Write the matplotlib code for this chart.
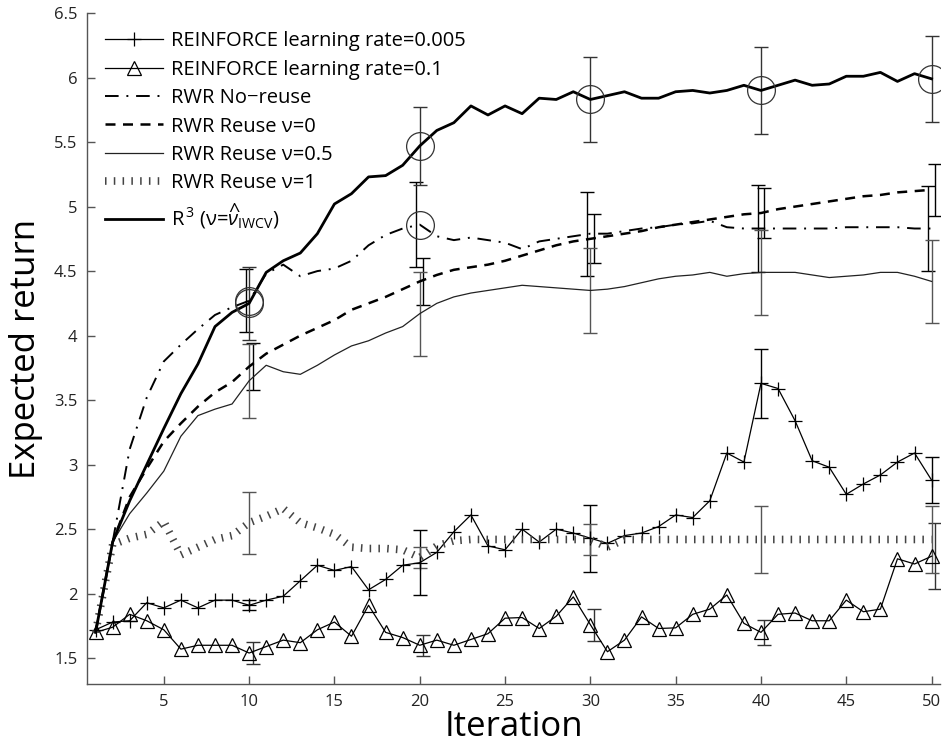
import numpy as np
import matplotlib
matplotlib.use("Agg")
import matplotlib.pyplot as plt

plt.rcParams['font.family'] = ['Open Sans', 'DejaVu Sans']
plt.rcParams['mathtext.fontset'] = 'custom'
plt.rcParams['mathtext.rm'] = 'Open Sans'
plt.rcParams['mathtext.it'] = 'Open Sans:italic'

# ---- data ----
iterations = np.arange(1, 51)
bar_iters = [10, 20, 30, 40, 50]

reinforce_005 = [1.72, 1.78, 1.79, 1.93, 1.89, 1.95, 1.89, 1.95, 1.95, 1.91,
                 1.95, 1.98, 2.10, 2.22, 2.18, 2.21, 2.03, 2.11, 2.22, 2.24,
                 2.32, 2.48, 2.61, 2.37, 2.34, 2.50, 2.40, 2.50, 2.47, 2.43,
                 2.39, 2.45, 2.47, 2.52, 2.61, 2.59, 2.72, 3.09, 3.02, 3.63,
                 3.59, 3.34, 3.03, 2.98, 2.77, 2.85, 2.92, 3.02, 3.09, 2.88]
reinforce_01 = [1.70, 1.74, 1.84, 1.79, 1.72, 1.57, 1.60, 1.60, 1.60, 1.54,
                1.59, 1.64, 1.62, 1.72, 1.78, 1.67, 1.91, 1.70, 1.66, 1.60,
                1.64, 1.60, 1.645, 1.69, 1.81, 1.815, 1.73, 1.825, 1.975, 1.76,
                1.55, 1.64, 1.82, 1.73, 1.735, 1.84, 1.88, 1.99, 1.77, 1.70,
                1.84, 1.85, 1.79, 1.79, 1.95, 1.86, 1.88, 2.27, 2.23, 2.29]
rwr_noreuse = [1.70, 2.40, 3.12, 3.52, 3.80, 3.93, 4.05, 4.16, 4.22, 4.27,
               4.48, 4.55, 4.46, 4.50, 4.52, 4.58, 4.70, 4.78, 4.83, 4.86,
               4.77, 4.74, 4.76, 4.74, 4.72, 4.67, 4.73, 4.75, 4.77, 4.79,
               4.79, 4.81, 4.83, 4.84, 4.86, 4.87, 4.89, 4.84, 4.83, 4.83,
               4.83, 4.83, 4.83, 4.83, 4.84, 4.84, 4.84, 4.84, 4.83, 4.83]
rwr_reuse0 = [1.70, 2.40, 2.75, 2.97, 3.18, 3.32, 3.45, 3.56, 3.64, 3.76,
              3.86, 3.93, 4.00, 4.06, 4.12, 4.20, 4.25, 4.30, 4.36, 4.42,
              4.47, 4.51, 4.53, 4.55, 4.58, 4.62, 4.66, 4.70, 4.73, 4.75,
              4.77, 4.79, 4.81, 4.84, 4.86, 4.88, 4.90, 4.92, 4.94, 4.95,
              4.98, 5.00, 5.02, 5.04, 5.06, 5.08, 5.09, 5.11, 5.12, 5.13]
rwr_reuse05 = [1.70, 2.40, 2.62, 2.78, 2.95, 3.22, 3.38, 3.43, 3.47, 3.65,
               3.77, 3.72, 3.70, 3.77, 3.85, 3.92, 3.96, 4.02, 4.07, 4.17,
               4.25, 4.30, 4.33, 4.35, 4.37, 4.39, 4.38, 4.37, 4.36, 4.35,
               4.36, 4.38, 4.41, 4.44, 4.46, 4.47, 4.49, 4.46, 4.48, 4.49,
               4.49, 4.49, 4.47, 4.45, 4.46, 4.47, 4.49, 4.49, 4.46, 4.42]
rwr_reuse1 = [1.70, 2.38, 2.43, 2.46, 2.56, 2.30, 2.36, 2.42, 2.45, 2.55,
              2.60, 2.66, 2.55, 2.51, 2.46, 2.36, 2.35, 2.35, 2.34, 2.28,
              2.37, 2.41, 2.42, 2.42, 2.42, 2.42, 2.42, 2.42, 2.42, 2.42,
              2.36, 2.42, 2.42, 2.42, 2.42, 2.42, 2.42, 2.42, 2.42, 2.42,
              2.42, 2.42, 2.42, 2.42, 2.42, 2.42, 2.42, 2.42, 2.42, 2.42]
r3 = [1.70, 2.40, 2.72, 3.00, 3.28, 3.55, 3.78, 4.07, 4.18, 4.25,
      4.49, 4.58, 4.64, 4.79, 5.02, 5.10, 5.23, 5.24, 5.32, 5.47,
      5.59, 5.65, 5.78, 5.71, 5.78, 5.72, 5.84, 5.83, 5.89, 5.83,
      5.86, 5.89, 5.84, 5.84, 5.89, 5.90, 5.88, 5.90, 5.94, 5.90,
      5.94, 5.98, 5.94, 5.95, 6.01, 6.01, 6.04, 5.97, 6.03, 5.99]

# half-widths of the error bars at iterations 10, 20, ..., 50
reinforce_005_err = [0.04, 0.25, 0.26, 0.265, 0.18]
reinforce_01_err = [0.087, 0.08, 0.125, 0.095, 0.255]
rwr_noreuse_err = [0.245, 0.33, 0.325, 0.34, 0.33]
rwr_reuse0_err = [0.18, 0.185, 0.19, 0.195, 0.20]
rwr_reuse05_err = [0.285, 0.325, 0.33, 0.33, 0.32]
rwr_reuse1_err = [0.24, 0.08, 0.12, 0.26, 0.26]
r3_err = [0.285, 0.30, 0.33, 0.335, 0.335]

# iterations that carry a circle marker
r3_circles = [10, 20, 30, 40, 50]
noreuse_circles = [10, 20]

labels = ['REINFORCE learning rate=0.005',
          'REINFORCE learning rate=0.1',
          'RWR No\u2212reuse',
          'RWR Reuse \u03bd=0',
          'RWR Reuse \u03bd=0.5',
          'RWR Reuse \u03bd=1',
          'R$^{\\,3}$ (\u03bd=$\\widehat{\\nu}_{\\mathrm{IWCV}}$)']

fig = plt.figure(figsize=(9.42, 7.49), dpi=100)
ax = fig.add_axes([0.0924, 0.0868, 0.9056, 0.8958])

def pick(series, at):
    return [series[i - 1] for i in at]

def ebar(series, err, offset, color):
    xs = [b + offset for b in bar_iters]
    ax.errorbar(xs, pick(series, bar_iters), yerr=err, fmt='none',
                ecolor=color, elinewidth=1.0, capsize=5, capthick=1.0, zorder=2)

ax.plot(iterations, reinforce_005, color='black', lw=0.9, marker='+', ms=10,
        mew=0.9, label=labels[0], zorder=3)
ax.plot(iterations, reinforce_01, color='black', lw=0.9, marker='^', ms=10,
        mfc='none', mew=0.9, label=labels[1], zorder=3)
ax.plot(iterations, rwr_noreuse, color='black', lw=1.4, ls=(0, (7, 4, 1, 4)),
        label=labels[2], zorder=3)
ax.plot(iterations, rwr_reuse0, color='black', lw=1.8, ls=(0, (4, 3)),
        label=labels[3], zorder=3)
ax.plot(iterations, rwr_reuse05, color='#222222', lw=0.9, label=labels[4], zorder=3)
ax.plot(iterations, rwr_reuse1, color='#444444', lw=5.5, dashes=(0.2, 0.95),
        dash_capstyle='butt', label=labels[5], zorder=3)
ax.plot(iterations, r3, color='black', lw=2.0, label=labels[6], zorder=4)

ebar(reinforce_005, reinforce_005_err, 0.0, 'black')
ebar(reinforce_01, reinforce_01_err, 0.2, '#333333')
ebar(rwr_noreuse, rwr_noreuse_err, -0.2, 'black')
ebar(rwr_reuse0, rwr_reuse0_err, 0.2, 'black')
ebar(rwr_reuse05, rwr_reuse05_err, 0.0, '#555555')
ebar(rwr_reuse1, rwr_reuse1_err, 0.0, '#555555')
ebar(r3, r3_err, 0.0, '#333333')

ax.plot(r3_circles, pick(r3, r3_circles), ls='none', marker='o', ms=20,
        mfc='none', mec='#333333', mew=0.9, zorder=5)
ax.plot(noreuse_circles, pick(rwr_noreuse, noreuse_circles), ls='none',
        marker='o', ms=20, mfc='none', mec='#333333', mew=0.9, zorder=5)

ax.set_xlim(0.5, 50.5)
ax.set_ylim(1.3, 6.5)
ax.set_xticks([5, 10, 15, 20, 25, 30, 35, 40, 45, 50])
ax.set_yticks([1.5, 2, 2.5, 3, 3.5, 4, 4.5, 5, 5.5, 6, 6.5])
ax.set_yticklabels(['1.5', '2', '2.5', '3', '3.5', '4', '4.5', '5', '5.5', '6', '6.5'])
ax.spines['top'].set_visible(False)
ax.spines['right'].set_visible(False)
for s in ['left', 'bottom']:
    ax.spines[s].set_color('#555555')
    ax.spines[s].set_linewidth(1.0)
ax.tick_params(direction='in', length=6, width=1.0, color='#555555',
               labelsize=12, labelcolor='#222222', pad=7)

ax.set_xlabel('Iteration', fontsize=25, labelpad=0)
ax.set_ylabel('Expected return', fontsize=25, labelpad=8)

ax.legend(loc='upper left', bbox_to_anchor=(0.004, 0.994), frameon=False,
          fontsize=14.5, handlelength=2.9, handletextpad=0.4, labelspacing=0.42,
          borderaxespad=0.3, numpoints=1)

fig.savefig('out.png', dpi=100)
